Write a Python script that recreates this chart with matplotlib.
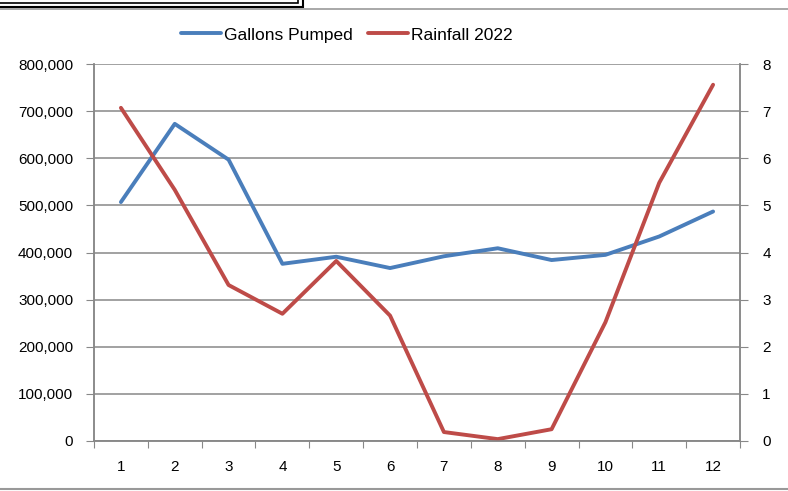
import numpy as np
import matplotlib.pyplot as plt
from matplotlib.lines import Line2D
from matplotlib.patches import Rectangle
from matplotlib.ticker import FuncFormatter, MultipleLocator

plt.rcParams['font.family'] = ['Liberation Sans', 'DejaVu Sans']

# Datos
meses = [1, 2, 3, 4, 5, 6, 7, 8, 9, 10, 11, 12]
galones = [507000, 673000, 597000, 376000, 391000, 367000,
           392000, 409000, 384000, 395000, 434000, 487000]
lluvia_2022 = [7.07, 5.33, 3.31, 2.70, 3.82, 2.66,
               0.19, 0.04, 0.25, 2.52, 5.48, 7.56]

azul = "#4A7EBB"
rojo = "#BE4B48"
gris = "#888888"

fig = plt.figure(figsize=(7.88, 4.91), dpi=100)
ax = fig.add_axes([94 / 788, 1 - 441 / 491, 646 / 788, 377 / 491])
ax2 = ax.twinx()

x = np.arange(len(meses))
l1, = ax.plot(x, galones, color=azul, lw=2.8, solid_capstyle="round",
              label="Gallons Pumped")
l2, = ax2.plot(x, lluvia_2022, color=rojo, lw=2.8, solid_capstyle="round",
               label="Rainfall 2022")

ax.set_xlim(-0.5, len(meses) - 0.5)
ax.set_ylim(0, 800000)
ax2.set_ylim(0, 8)
ax.yaxis.set_major_locator(MultipleLocator(100000))
ax2.yaxis.set_major_locator(MultipleLocator(1))
ax.yaxis.set_major_formatter(FuncFormatter(lambda v, p: f"{int(v):,}"))
ax.grid(axis="y", color=gris, lw=1.1)
ax.set_axisbelow(True)

# Ticks del eje x en los bordes de categoría
ax.set_xticks(np.arange(-0.5, len(meses), 1))
ax.set_xticklabels([])
ax.set_xticks(x, minor=True)
ax.set_xticklabels([str(m) for m in meses], minor=True)
ax.tick_params(axis="x", which="major", length=5, color=gris, direction="out")
ax.tick_params(axis="x", which="minor", length=0, pad=14, labelsize=11)
ax.tick_params(axis="y", length=6, color=gris, labelsize=11, pad=9)
ax2.tick_params(axis="y", length=6, color=gris, labelsize=11, pad=10)

for a in (ax, ax2):
    a.spines["top"].set_visible(False)
    for s in ("left", "right", "bottom"):
        a.spines[s].set_color(gris)
        a.spines[s].set_linewidth(1.1)

fig.legend(handles=[l1, l2], loc="center", bbox_to_anchor=(347 / 788, 1 - 35 / 491),
           ncol=2, frameon=False, fontsize=12.5, handlelength=2.3,
           handletextpad=0.17, columnspacing=0.9)

# Marcos decorativos arriba y abajo
fig.add_artist(Line2D([0, 1], [1 - 8.5 / 491] * 2, color="#999999", lw=1.2))
fig.add_artist(Line2D([0, 1], [1 - 489 / 491] * 2, color="#999999", lw=1.5))
fig.add_artist(Rectangle((-0.01, 1 - 7 / 491), 303 / 788 + 0.01, 0.03,
                         fill=True, facecolor="white", edgecolor="black", lw=1.5))
fig.add_artist(Rectangle((-0.01, 1 - 3 / 491), 298 / 788 + 0.01, 0.03,
                         fill=False, edgecolor="black", lw=1.2))

fig.savefig("out.png", dpi=100)
